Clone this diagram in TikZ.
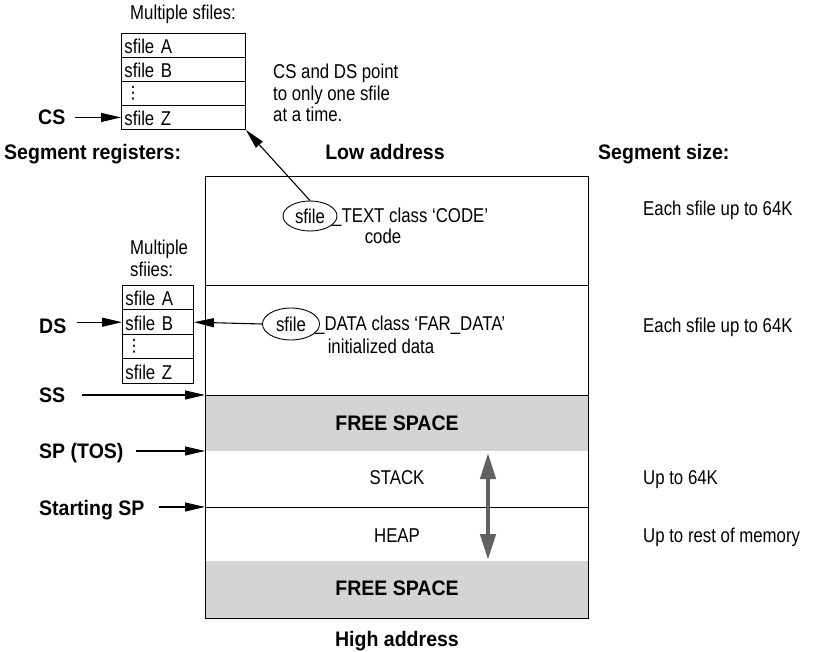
\documentclass[tikz,border=0pt]{standalone}
\usepackage{fontspec}
\setmainfont{Liberation Sans}[FakeStretch=0.84]
\newfontfamily\hbold{Liberation Sans}[FakeStretch=0.93]
\newfontfamily\dvfont{DejaVu Sans}
\usetikzlibrary{arrows.meta,shapes.geometric}
\begin{document}
\begin{tikzpicture}[x=1pt,y=-1pt,
  txt/.style={font=\fontsize{20}{21.5}\selectfont, inner sep=0},
  btxt/.style={font=\hbold\bfseries\fontsize{21}{22}\selectfont, inner sep=0},
  cell/.style={draw, line width=0.9pt, inner sep=0, text height=16pt, text depth=0pt, align=left, font=\fontsize{20}{21}\selectfont, anchor=north west},
  topcell/.style={cell, minimum width=124pt, minimum height=24pt, text width=118pt},
  dscell/.style={cell, minimum width=71pt, minimum height=24.5pt, text width=65pt},
  dotsym/.style={font=\dvfont\fontsize{17}{17}\selectfont},
  regarr/.style={line width=1.1pt, -{Triangle[length=20pt,width=9pt]}},
  sfell/.style={draw, ellipse, line width=0.9pt, inner sep=0, font=\fontsize{20}{21}\selectfont},
  memline/.style={line width=0.9pt},
  freefill/.style={fill=black!17},
  growarr/.style={line width=4.5pt, draw=black!62, {Triangle[length=26pt,width=15pt]}-{Triangle[length=26pt,width=15pt]}}
]
\useasboundingbox (0,0) rectangle (820,652);

% memory map
\fill[freefill] (205,395) rectangle (588,451);
\fill[freefill] (205,561) rectangle (588,618);
\draw[memline] (205,176) rectangle (588,618);
\draw[memline] (205,285) -- (588,285);
\draw[memline] (205,395) -- (588,395);
\draw[memline] (205,507) -- (588,507);

\coordinate (ssp) at (205,395);
\coordinate (tos) at (205,451);
\coordinate (stsp) at (205,507);
\coordinate (gtop) at (488,453);
\coordinate (gbot) at (488,560);

% top sfile list
\node[txt, anchor=base west] (ms) at (130,20) {Multiple sfiles:};
\node[topcell] (a1) at (121,33) {sfile A};
\node[topcell] (a2) at (121,57) {sfile B};
\node[topcell] (a3) at (121,81) {};
\node[dotsym] (a3d) at (133,93) {⋮};
\node[topcell] (a4) at (121,105) {sfile Z};
\node[txt, align=left, anchor=north west] (note) at (273,64) {CS and DS point\\to only one sfile\\at a time.};

% DS sfile list
\node[txt, align=left, anchor=north west] (ms2) at (130,240) {Multiple\\sfiies:};
\node[dscell] (b1) at (122,285) {sfile A};
\node[dscell] (b2) at (122,309.5) {sfile B};
\node[dscell] (b3) at (122,334) {};
\node[dotsym] (b3d) at (134,346) {⋮};
\node[dscell] (b4) at (122,358.5) {sfile Z};

% headers
\node[btxt, anchor=base west] (sr) at (4,160) {Segment registers:};
\node[btxt, anchor=base] (low) at (385,160) {Low address};
\node[btxt, anchor=base west] (ssz) at (598,160) {Segment size:};
\node[btxt, anchor=base] (high) at (397,646) {High address};

% segment texts
\node[sfell, minimum width=54pt, minimum height=30pt] (et) at (310,216) {sfile};
\node[txt, anchor=base west] (tt) at (332,223) {\_TEXT class ‘CODE’};
\node[txt, anchor=base] (code) at (383,244) {code};
\node[sfell, minimum width=57pt, minimum height=32pt] (ed) at (291,324) {sfile};
\node[txt, anchor=base west] (dt) at (315,331) {\_DATA class ‘FAR\_DATA’};
\node[txt, anchor=base] (init) at (381,354) {initialized data};
\node[btxt, anchor=base] (fs1) at (397,431) {FREE SPACE};
\node[txt, anchor=base] (stk) at (397,485) {STACK};
\node[txt, anchor=base] (hp) at (397,542) {HEAP};
\node[btxt, anchor=base] (fs2) at (397,595) {FREE SPACE};

% sizes
\node[txt, anchor=base west] (z1) at (643,216) {Each sfile up to 64K};
\node[txt, anchor=base west] (z2) at (643,333) {Each sfile up to 64K};
\node[txt, anchor=base west] (z3) at (643,485) {Up to 64K};
\node[txt, anchor=base west] (z4) at (643,542) {Up to rest of memory};

% registers
\node[btxt, anchor=base west] (cs) at (38,125) {CS};
\node[btxt, anchor=base west] (ds) at (39,334) {DS};
\node[btxt, anchor=base west] (ss) at (39,403) {SS};
\node[btxt, anchor=base west] (sp) at (39,459) {SP (TOS)};
\node[btxt, anchor=base west] (st) at (39,515) {Starting SP};

\draw[regarr] ([xshift=9pt]cs.east |- a4.west) -- (a4.west);
\draw[regarr] ([xshift=10pt]ds.east |- b2.west) -- (b2.west);
\draw[regarr] ([xshift=17pt]ss.east |- ssp) -- (ssp);
\draw[regarr] ([xshift=12pt]sp.east |- tos) -- (tos);
\draw[regarr] ([xshift=14pt]st.east |- stsp) -- (stsp);

\draw[regarr] (et.north) -- (a4.south east);
\draw[regarr] (ed.west) -- (b2.east);

\draw[growarr] (gtop) -- (gbot);
\end{tikzpicture}
\end{document}
